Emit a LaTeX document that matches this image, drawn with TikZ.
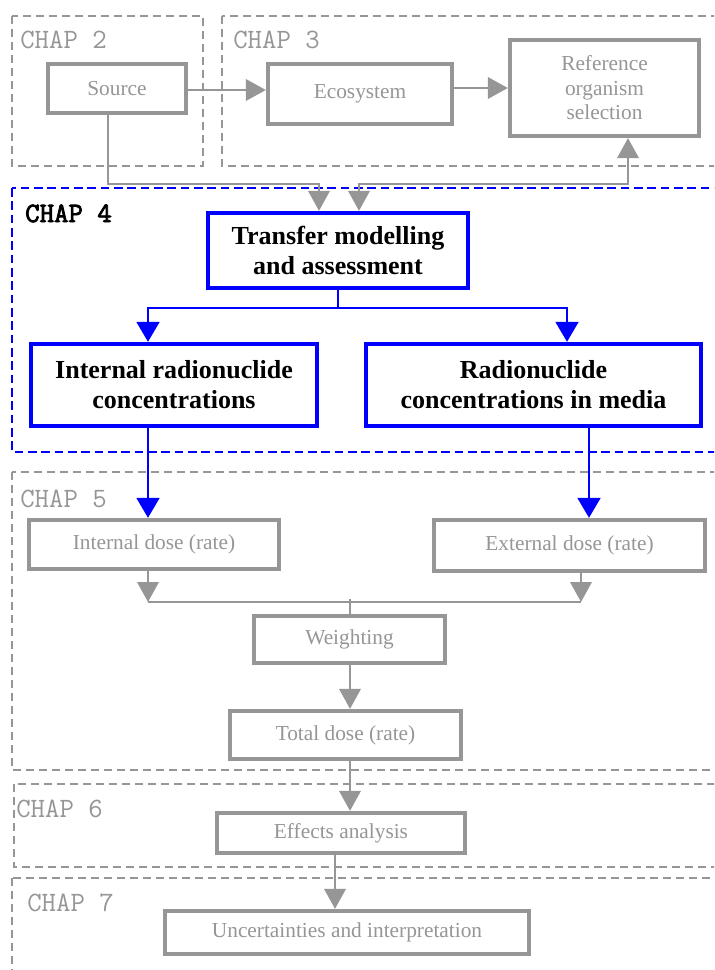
\documentclass[tikz,border=0pt]{standalone}
\usepackage{fontspec}
\setmainfont{Liberation Serif}
\newfontfamily\chapbold[FakeBold=3]{Latin Modern Mono}
\usetikzlibrary{arrows.meta}
\definecolor{gr}{RGB}{150,150,150}
\definecolor{bl}{RGB}{0,0,255}
\begin{document}
\begin{tikzpicture}[x=0.75pt,y=-0.75pt,
  gbox/.style={draw=gr, line width=3.2pt, text=gr, font=\fontsize{16}{18.4}\selectfont, align=center, inner sep=0pt},
  bbox/.style={draw=bl, line width=3.2pt, text=black, font=\fontsize{19.5}{22.5}\selectfont\bfseries, align=center, inner sep=0pt},
  chapg/.style={anchor=base west, inner sep=0pt, text=gr, font=\ttfamily\fontsize{21}{23}\selectfont},
  chapb/.style={anchor=base west, inner sep=0pt, text=black, font=\chapbold\fontsize{21}{23}\selectfont},
  gframe/.style={draw=gr, line width=1.5pt, dash pattern=on 6pt off 3.75pt},
  bframe/.style={draw=bl, line width=2.2pt, dash pattern=on 6.5pt off 3.5pt},
  gline/.style={draw=gr, line width=1.9pt},
  bline/.style={draw=bl, line width=2.2pt},
  garrow/.style={gline, -{Triangle[length=15pt,width=16pt]}},
  gdarrow/.style={gline, {Triangle[length=15pt,width=16pt]}-{Triangle[length=15pt,width=16pt]}},
  barrow/.style={bline, -{Triangle[length=15pt,width=17pt]}}
]
\useasboundingbox (0,0) rectangle (714,970);
\clip (0,0) rectangle (714,970);
\fill[white] (0,0) rectangle (714,970);

% chapter frames
\draw[gframe] (12,16) rectangle (203,166);
\draw[gframe] (222,16) rectangle (730,166);
\draw[bframe] (12,188) rectangle (730,452);
\draw[gframe] (12,472) rectangle (730,770);
\draw[gframe] (14,784) rectangle (730,867);
\draw[gframe] (12,878) rectangle (730,990);

% chapter labels
\node[chapg] (c2) at (20,49) {CHAP 2};
\node[chapg] (c3) at (233,49) {CHAP 3};
\node[chapb] (c4) at (25,222) {CHAP 4};
\node[chapg] (c5) at (20,507) {CHAP 5};
\node[chapg] (c6) at (16,817) {CHAP 6};
\node[chapg] (c7) at (27,911) {CHAP 7};

% boxes
\node[gbox, minimum width=103.5pt, minimum height=36.75pt] (src) at (117,88.5) {Source};
\node[gbox, minimum width=138pt, minimum height=45pt] (eco) at (360,94) {Ecosystem};
\node[gbox, minimum width=141.75pt, minimum height=72pt] (ref) at (604.5,88) {Reference\\organism\\selection};
\node[bbox, minimum width=195pt, minimum height=56.25pt] (tr) at (338,250.5) {Transfer modelling\\and assessment};
\node[bbox, minimum width=214.5pt, minimum height=61.5pt] (irc) at (174,385) {Internal radionuclide\\concentrations};
\node[bbox, minimum width=251.25pt, minimum height=61.5pt] (med) at (533.5,385) {Radionuclide\\concentrations in media};
\node[gbox, minimum width=187.5pt, minimum height=36.75pt] (idose) at (154,544.5) {Internal dose (rate)};
\node[gbox, minimum width=203.25pt, minimum height=38.25pt] (edose) at (569.5,545.5) {External dose (rate)};
\node[gbox, minimum width=143.25pt, minimum height=35.25pt] (wt) at (349.5,639.5) {Weighting};
\node[gbox, minimum width=173.25pt, minimum height=36pt] (tot) at (345.5,735) {Total dose (rate)};
\node[gbox, minimum width=186pt, minimum height=30pt] (eff) at (341,833) {Effects analysis};
\node[gbox, minimum width=273pt, minimum height=32.25pt] (unc) at (347,932.5) {Uncertainties and interpretation};

% helper coordinates
\coordinate (s1) at (108,0);
\coordinate (j1) at (319,184);
\coordinate (r1) at (628,0);
\coordinate (j2) at (359,184);
\coordinate (b1) at (148,308);
\coordinate (b2) at (567,308);
\coordinate (b3) at (589,0);
\coordinate (d1) at (148,602);
\coordinate (d2) at (581,602);
\coordinate (v1) at (350,0);
\coordinate (v2) at (335,0);

% connectors
\draw[garrow] (src.east |- 0,90) -- (eco.west |- 0,90);
\draw[garrow] (eco.east |- ref.west) -- (ref.west);
\draw[garrow] (src.south -| s1) |- (j1) -- (tr.north -| j1);
\draw[gdarrow] (ref.south -| r1) |- (j2) -- (tr.north -| j2);

\draw[barrow] (tr.south) |- (b1) -- (irc.north -| b1);
\draw[barrow] (tr.south) |- (b2) -- (med.north -| b2);
\draw[barrow] (irc.south -| b1) -- (idose.north -| b1);
\draw[barrow] (med.south -| b3) -- (edose.north -| b3);

\draw[garrow] (idose.south -| d1) -- (d1);
\draw[garrow] (edose.south -| d2) -- (d2);
\draw[gline] (d1) -- (d2);
\draw[gline] (wt.north -| v1) -- (v1 |- 0,599);
\draw[garrow] (wt.south -| v1) -- (tot.north -| v1);
\draw[garrow] (tot.south -| v1) -- (eff.north -| v1);
\draw[garrow] (eff.south -| v2) -- (unc.north -| v2);
\end{tikzpicture}
\end{document}
